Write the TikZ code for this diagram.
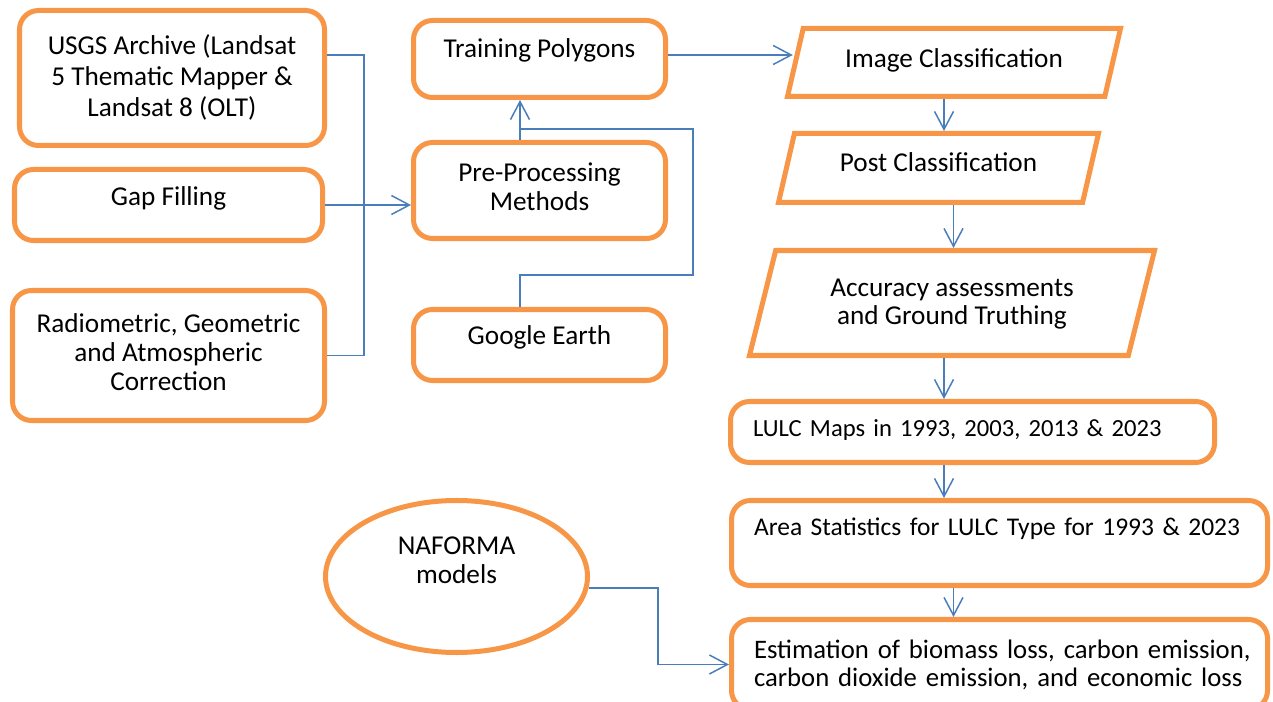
\documentclass[tikz,border=0pt]{standalone}
\usepackage{fontspec}
\setmainfont{Carlito}
\usetikzlibrary{arrows.meta,shapes.geometric,calc}
\definecolor{boxorange}{RGB}{247,150,70}
\definecolor{linkblue}{RGB}{74,126,187}
\newcommand{\diagfont}{\fontsize{15.5}{16.5}\selectfont}
\tikzset{%
    box/.style={draw=boxorange, line width=2.85pt, rounded corners=0.38cm,
        align=center, inner sep=0pt, font=\diagfont},
    wide/.style={box, align=left, inner xsep=0.45cm},
    slant/.style={trapezium, draw=boxorange, line width=2.85pt,
        trapezium left angle=77, trapezium right angle=103,
        trapezium stretches body, align=center, inner xsep=0pt, font=\diagfont},
    oval/.style={ellipse, draw=boxorange, line width=2.85pt,
        align=center, inner sep=0pt, font=\diagfont},
    lift/.style={text height=0.35cm, text depth=#1},
    link/.style={draw=linkblue, line width=0.85pt},
    arr/.style={link, -{Straight Barb[length=0.36cm, width=0.38cm]}}
}

\begin{document}
\begin{tikzpicture}
    \useasboundingbox (0,0) rectangle (25.46,-14.04);
    % inputs
    \node[box, font=\fontsize{15.5}{17.8}\selectfont, text depth=0.1cm,
        minimum width=6.1cm, minimum height=2.7cm] (usgs) at (3.44,-1.56)
        {USGS Archive (Landsat\\5 Thematic Mapper \&\\Landsat 8 (OLT)};
    \node[box, lift=0.32cm, minimum width=6.16cm, minimum height=1.42cm] (gap) at (3.37,-4.10) {Gap Filling};
    \node[box, text depth=0.15cm, minimum width=6.24cm, minimum height=2.6cm] (radio) at (3.37,-7.11)
        {Radiometric, Geometric\\and Atmospheric\\Correction};
    % middle
    \node[box, lift=0.42cm, minimum width=5.04cm, minimum height=1.54cm] (train) at (10.79,-1.18) {Training Polygons};
    \node[box, text depth=0.15cm, minimum width=5.04cm, minimum height=1.92cm] (prep) at (10.79,-3.81) {Pre-Processing\\Methods};
    \node[box, lift=0.38cm, minimum width=5.04cm, minimum height=1.42cm] (google) at (10.79,-6.9) {Google Earth};
    \node[oval, text depth=0.66cm, minimum width=5.24cm, minimum height=3.04cm] (naforma) at (9.13,-11.53) {NAFORMA\\models};
    % classification chain
    \node[slant, lift=0.16cm, inner ysep=0.425cm, minimum width=6.66cm] (imgcls) at (19.08,-1.25) {Image Classification};
    \node[slant, lift=0.2cm, inner ysep=0.415cm, minimum width=6.4cm] (postcls) at (18.77,-3.36) {Post Classification};
    \node[slant, trapezium left angle=76, trapezium right angle=104, text height=0.93cm, text depth=0.05cm,
        inner ysep=0.56cm, minimum width=8.1cm] (accu) at (19.04,-6.06)
        {Accuracy assessments\\and Ground Truthing};
    \node[wide, font=\fontsize{14}{16}\selectfont, lift=0.16cm, text width=8.78cm, minimum height=1.22cm] (lulc) at (19.45,-8.64)
        {\mbox{LULC Maps in 1993, 2003, 2013 \& 2023}};
    \node[wide, font=\fontsize{14.5}{16}\selectfont, lift=0.64cm, text width=9.82cm, minimum height=1.7cm] (area) at (19.99,-10.86)
        {\mbox{Area Statistics for LULC Type for 1993 \& 2023}};
    \node[wide, font=\fontsize{15.2}{16}\selectfont, text width=9.82cm, minimum height=1.8cm] (estim) at (19.99,-13.29)
        {\mbox{Estimation of biomass loss, carbon emission,}\\\mbox{carbon dioxide emission, and economic loss}};

    \coordinate (bus) at (7.28,0);
    \coordinate (up) at ([xshift=-0.39cm]prep.north);
    \coordinate (loop) at (13.86,-5.5);
    \coordinate (looptop) at (13.86,-2.58);
    \coordinate (colA) at (18.88,0);
    \coordinate (colB) at (19.07,0);
    \coordinate (bend) at (13.16,0);

    \draw[link] ([yshift=0.46cm]usgs.east) -| (bus |- radio.east) -- (radio.east);
    \draw[arr] (gap.east) -- (gap.east -| prep.west);
    \draw[arr] (up) -- (up |- train.south);
    \draw[link] ([xshift=-0.39cm]google.north) |- (loop) -- (looptop) -- (looptop -| up);
    \draw[arr] ([yshift=0.08cm]train.east) -- ([yshift=0.08cm]train.east -| imgcls.west);
    \draw[arr] (imgcls.south -| colA) -- (postcls.north -| colA);
    \draw[arr] (postcls.south -| colB) -- (accu.north -| colB);
    \draw[arr] (accu.south -| colA) -- (lulc.north -| colA);
    \draw[arr] (lulc.south -| colA) -- (area.north -| colA);
    \draw[arr] (area.south -| colB) -- (estim.north -| colB);
    \draw[arr] (naforma.-5) -| (bend |- estim.west) -- (estim.west);
\end{tikzpicture}
\end{document}
